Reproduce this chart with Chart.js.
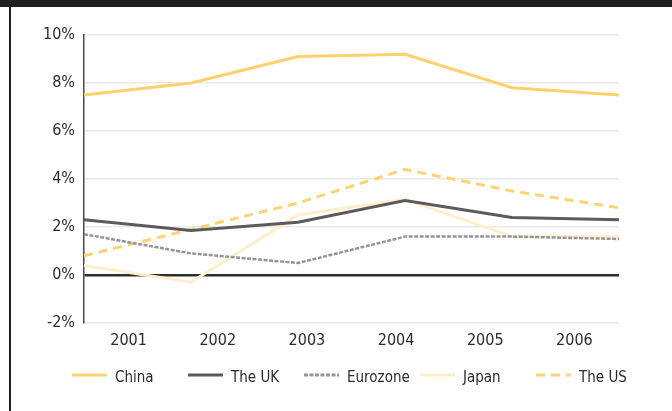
<!DOCTYPE html>
<html>
<head>
<meta charset="utf-8">
<script src="https://cdn.jsdelivr.net/npm/chart.js@4.4.1/dist/chart.umd.min.js"></script>
<style>
    html, body { margin: 0; padding: 0; background: #fff; }
    .frame { position: relative; width: 672px; height: 411px; overflow: hidden; }
    .topbar { position: absolute; left: 0; top: 0; width: 672px; height: 7px; background: #231f20; }
    .leftline { position: absolute; left: 9px; top: 7px; width: 2px; height: 404px; background: #231f20; }
    canvas { position: absolute; left: 0; top: 0; }
</style>
</head>
<body>
<div class="frame">
    <div class="topbar"></div>
    <div class="leftline"></div>
    <canvas id="chart" width="672" height="411"></canvas>
</div>
<script>
// data
const years = ['2001', '2002', '2003', '2004', '2005', '2006'];
const china = [7.5, 8.0, 9.1, 9.2, 7.8, 7.5];
const uk = [2.3, 1.85, 2.2, 3.1, 2.4, 2.3];
const eurozone = [1.7, 0.9, 0.5, 1.6, 1.6, 1.5];
const japan = [0.4, -0.3, 2.5, 3.15, 1.6, 1.6];
const us = [0.8, 1.9, 3.0, 4.4, 3.5, 2.8];
const yTicks = [-2, 0, 2, 4, 6, 8, 10];

const FONT = '"Liberation Sans Narrow", "DejaVu Sans Condensed", "Roboto", sans-serif';

// legend drawn by hand so the dashed samples look like the original
const legendPlugin = {
    id: 'bottomLegend',
    afterDraw(chart) {
        const ctx = chart.ctx;
        ctx.save();
        ctx.font = '15px ' + FONT;
        ctx.textBaseline = 'middle';
        ctx.textAlign = 'left';
        chart.data.datasets.forEach((ds, i) => {
            const x = 72 + i * 116;
            const y = 375;
            ctx.strokeStyle = ds.borderColor;
            ctx.lineWidth = 3;
            ctx.setLineDash(ds.borderDash || []);
            ctx.beginPath();
            ctx.moveTo(x, y);
            ctx.lineTo(x + 35, y);
            ctx.stroke();
            ctx.setLineDash([]);
            ctx.fillStyle = '#2b2b2b';
            ctx.fillText(ds.label, x + 43, y + 3);
        });
        ctx.restore();
    }
};

new Chart(document.getElementById('chart'), {
    type: 'line',
    data: {
        labels: years,
        datasets: [
            { label: 'China', data: china, borderColor: '#fdd26e', borderWidth: 3 },
            { label: 'The UK', data: uk, borderColor: '#5b5b5b', borderWidth: 3 },
            { label: 'Eurozone', data: eurozone, borderColor: '#959598', borderWidth: 2.5, borderDash: [4, 1.5] },
            { label: 'Japan', data: japan, borderColor: '#fdefca', borderWidth: 3 },
            { label: 'The US', data: us, borderColor: '#fdd46e', borderWidth: 3, borderDash: [9, 6] }
        ]
    },
    options: {
        responsive: false,
        animation: false,
        layout: { padding: { top: 35, right: 53, bottom: 58, left: 0 } },
        elements: {
            point: { radius: 0 },
            line: { tension: 0, borderCapStyle: 'butt', borderJoinStyle: 'miter' }
        },
        plugins: {
            legend: { display: false },
            tooltip: { enabled: false }
        },
        scales: {
            x: {
                type: 'category',
                offset: false,
                display: false
            },
            xl: {
                type: 'category',
                labels: years,
                position: 'bottom',
                offset: true,
                grid: { display: false, drawTicks: false },
                border: { display: false },
                ticks: { color: '#2b2b2b', font: { family: FONT, size: 16 }, padding: 8 },
                afterFit(scale) { scale.height = 30; }
            },
            y: {
                min: -2,
                max: 10,
                afterBuildTicks(scale) { scale.ticks = yTicks.map(v => ({ value: v })); },
                afterFit(scale) { scale.width = 84; },
                ticks: {
                    color: '#2b2b2b',
                    font: { family: FONT, size: 16 },
                    padding: 9,
                    callback: v => v + '%'
                },
                grid: {
                    drawTicks: false,
                    color: c => c.tick && c.tick.value === 0 ? '#2e2e2e' : '#e9e9e9',
                    lineWidth: c => c.tick && c.tick.value === 0 ? 2.5 : 1.5
                },
                border: { display: true, color: '#4a4a4a', width: 1.5 }
            }
        }
    },
    plugins: [legendPlugin]
});
</script>
</body>
</html>
